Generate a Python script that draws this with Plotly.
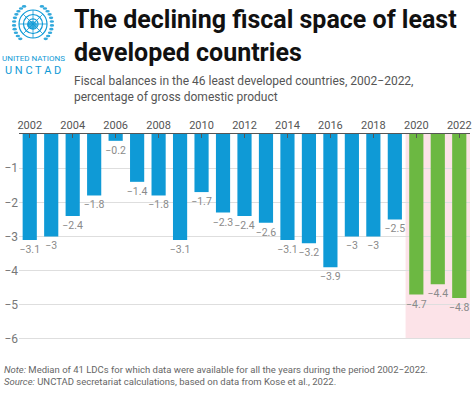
import math
import plotly.graph_objects as go

years = list(range(2002, 2023))
balances = [-3.1, -3.0, -2.4, -1.8, -0.2, -1.4, -1.8, -3.1, -1.7, -2.3, -2.4,
            -2.6, -3.1, -3.2, -3.9, -3.0, -3.0, -2.5, -4.7, -4.4, -4.8]
x_ticks = list(range(2002, 2023, 2))
y_ticks = [-1, -2, -3, -4, -5, -6]
highlight_years = [2020, 2021, 2022]

BLUE = "#0f9ad6"
GREEN = "#6cb842"
PINK = "#fce3e8"
FONT = "Roboto"

colors = [GREEN if y in highlight_years else BLUE for y in years]
labels = [("−" + f"{abs(v):g}") for v in balances]

fig = go.Figure()
fig.add_trace(go.Bar(
    x=years, y=balances, marker_color=colors, marker_line_width=0,
    text=labels, textposition="outside", cliponaxis=False, constraintext="none",
    textfont=dict(family=FONT, size=10.5, color="#8a8a8a"),
))

fig.add_shape(type="rect", xref="x", yref="y", x0=2019.5, x1=2022.5, y0=0, y1=-6,
              fillcolor=PINK, line_width=0, layer="below")

L, R, T, B, W, H = 19, 4, 134, 56, 474, 396
PW, PH = W - L - R, H - T - B

def px(x):
    return (x - L) / PW

def py(y):
    return (H - B - y) / PH

fig.update_layout(
    width=W, height=H,
    margin=dict(l=L, r=R, t=T, b=B, autoexpand=False),
    paper_bgcolor="white", plot_bgcolor="white",
    showlegend=False, bargap=0.34,
    font=dict(family=FONT, color="#666"),
    xaxis=dict(side="top", range=[2001.5, 2022.5], tickvals=x_ticks,
               ticktext=[str(t) for t in x_ticks], automargin=False,
               tickfont=dict(size=11, color="#555"), ticks="inside", ticklen=4,
               tickcolor="#555", showline=True, linecolor="#555", linewidth=1,
               showgrid=False, zeroline=False, fixedrange=True),
    yaxis=dict(range=[-6.03, 0], tickvals=y_ticks, automargin=False,
               ticktext=["−" + str(abs(t)) for t in y_ticks],
               tickfont=dict(size=12, color="#777"), showgrid=True,
               gridcolor="#dedede", gridwidth=1, zeroline=False, ticks="",
               fixedrange=True),
)

# Title & subtitle
fig.add_annotation(text="<b>The declining fiscal space of least<br>developed countries</b>",
                   xref="paper", yref="paper", x=px(72), y=py(3),
                   xanchor="left", yanchor="top", align="left", showarrow=False,
                   font=dict(family="Roboto", size=25, color="#111"))
fig.add_annotation(text="Fiscal balances in the 46 least developed countries, 2002−2022,<br>percentage of gross domestic product",
                   xref="paper", yref="paper", x=px(72), y=py(72),
                   xanchor="left", yanchor="top", align="left", showarrow=False,
                   font=dict(family=FONT, size=12, color="#555"))

# Notes
fig.add_annotation(text="<i>Note:</i> Median of 41 LDCs for which data were available for all the years during the period 2002−2022.<br><i>Source:</i> UNCTAD secretariat calculations, based on data from Kose et al., 2022.",
                   xref="paper", yref="paper", x=px(2), y=py(362),
                   xanchor="left", yanchor="top", align="left", showarrow=False,
                   font=dict(family=FONT, size=9.5, color="#666"))

# UN logo approximation
cx, cy, r = 33, 24, 14
for rr in [r, r * 0.68, r * 0.36]:
    fig.add_shape(type="circle", xref="paper", yref="paper",
                  x0=px(cx - rr), x1=px(cx + rr), y0=py(cy + rr), y1=py(cy - rr),
                  line=dict(color=BLUE, width=1.2))
for (x0, y0, x1, y1) in [(cx - r, cy, cx + r, cy), (cx, cy - r, cx, cy + r),
                         (cx - r * 0.7, cy - r * 0.7, cx + r * 0.7, cy + r * 0.7),
                         (cx - r * 0.7, cy + r * 0.7, cx + r * 0.7, cy - r * 0.7)]:
    fig.add_shape(type="line", xref="paper", yref="paper",
                  x0=px(x0), x1=px(x1), y0=py(y0), y1=py(y1),
                  line=dict(color=BLUE, width=0.8))
fig.add_shape(type="circle", xref="paper", yref="paper",
              x0=px(cx - 6), x1=px(cx + 4), y0=py(cy + 5), y1=py(cy - 3),
              fillcolor=BLUE, line_width=0, opacity=0.8)
for side in (-1, 1):
    for k in range(2, 13):
        a = math.radians(110 + k * 11) if side < 0 else math.radians(70 - k * 11)
        ax, ay = cx + (r + 5) * math.cos(a), cy + (r + 5) * math.sin(a) * 1.05
        fig.add_shape(type="circle", xref="paper", yref="paper",
                      x0=px(ax - 2.2), x1=px(ax + 2.2), y0=py(ay + 1.3), y1=py(ay - 1.3),
                      fillcolor=BLUE, line_width=0, opacity=0.85)
fig.add_annotation(text="UNITED NATIONS", xref="paper", yref="paper", x=px(33), y=py(59),
                   showarrow=False, xanchor="center", yanchor="middle",
                   font=dict(family=FONT, size=8, color=BLUE))
fig.add_annotation(text="U N C T A D", xref="paper", yref="paper", x=px(33), y=py(71),
                   showarrow=False, xanchor="center", yanchor="middle",
                   font=dict(family="Roboto", size=11, color=BLUE))

fig.write_html("out.html", config={"displayModeBar": False},
               post_script="document.body.style.margin='0';document.body.style.overflow='hidden';")
